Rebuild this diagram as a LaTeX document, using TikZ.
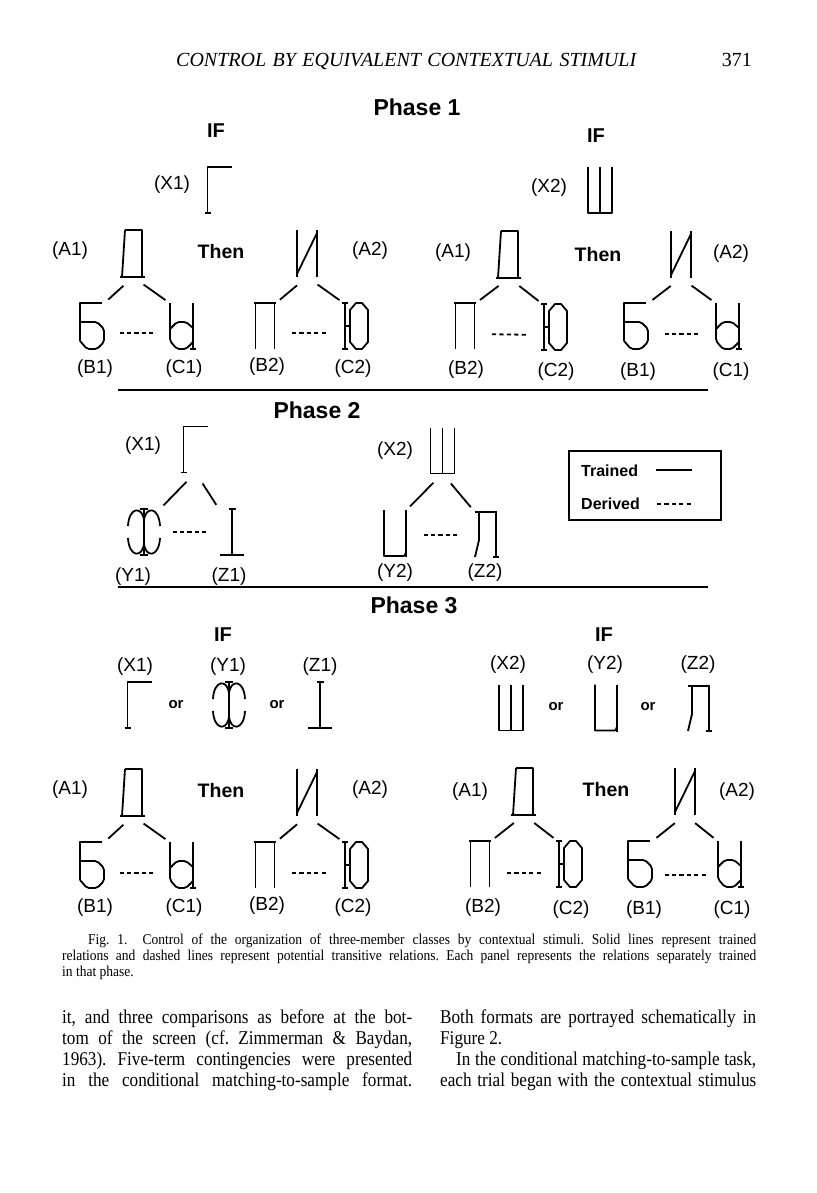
\documentclass[tikz,border=0pt]{standalone}
\usepackage{fontspec}
\setmainfont{Liberation Serif}
\setsansfont{Liberation Sans}
\newfontfamily\bodyfont[FakeStretch=0.88]{Liberation Serif}
\newfontfamily\capfont[FakeStretch=0.9]{Liberation Serif}
\usetikzlibrary{positioning}
\frenchspacing

\tikzset{
  glyph/.style={line width=1.8pt, line join=round},
  gbox/.style={inner sep=0pt, outer sep=0pt, minimum height=46pt},
  link/.style={line width=1.8pt, shorten <=13pt, shorten >=5pt},
  derived/.style={line width=1.8pt, dash pattern=on 4.2pt off 3.2pt, shorten <=#1, shorten >=#1},
  derived/.default=16pt,
  rulebar/.style={line width=2pt},
  lab/.style={font=\sffamily\fontsize{19}{21}\selectfont, inner sep=0pt},
  phasetitle/.style={font=\sffamily\bfseries\fontsize{23}{26}\selectfont, inner sep=0pt},
  iftext/.style={font=\sffamily\bfseries\fontsize{20}{22}\selectfont, inner sep=0pt},
  thentext/.style={font=\sffamily\bfseries\fontsize{19.5}{22}\selectfont, inner sep=0pt},
  ortext/.style={font=\sffamily\bfseries\fontsize{15}{17}\selectfont, inner sep=0pt},
  legtext/.style={font=\sffamily\bfseries\fontsize{16}{18}\selectfont, inner sep=0pt},
  legbox/.style={draw, line width=1.6pt, minimum width=152pt, minimum height=69pt},
  headtext/.style={font=\itshape\fontsize{20}{22}\selectfont, inner sep=0pt},
  pagetext/.style={font=\fontsize{20}{22}\selectfont, inner sep=0pt},
  captext/.style={font=\capfont\fontsize{15}{16}\selectfont, inner sep=0pt},
  bodytext/.style={font=\bodyfont\fontsize{19.5}{21}\selectfont, inner sep=0pt},
  % the stimulus glyphs, centred on the pic origin, y runs downwards
  ghe/.pic={
    \node[gbox, minimum width=26pt] (-box) {};
    \draw[glyph] (12.5,-23) -- (-12,-23) -- (-12,23);
    \draw[glyph] (-15,23) -- (-9,23);
  },
  sha/.pic={
    \node[gbox, minimum width=25pt] (-box) {};
    \draw[glyph] (-12,-23) -- (-12,23) -- (12,23) -- (12,-23);
    \draw[glyph] (0,-23) -- (0,23);
  },
  de/.pic={
    \node[gbox, minimum width=26pt] (-box) {};
    \draw[glyph] (-8,-24) -- (9,-24) -- (9,23);
    \draw[glyph] (-8,-24) -- (-11,23);
    \draw[glyph] (-13,23) -- (12,23);
  },
  ii/.pic={
    \node[gbox, minimum width=21pt] (-box) {};
    \draw[glyph] (-10,-24) -- (-10,23);
    \draw[glyph] (10,-24) -- (10,23);
    \draw[glyph] (-10,20) -- (10,-21);
  },
  be/.pic={
    \node[gbox, minimum width=25pt] (-box) {};
    \draw[glyph] (10,-23) -- (-12,-23) -- (-12,15);
    \draw[glyph, rounded corners=2pt] (-12,-4) -- (5,-4) -- (12,3) -- (12,16) -- (5,23) -- (-5,23) -- (-12,15);
  },
  bowl/.pic={
    \node[gbox, minimum width=25pt] (-box) {};
    \draw[glyph, rounded corners=2pt] (-12,-23) -- (-12,15) -- (-5,23) -- (4,23) -- (11,16);
    \draw[glyph, rounded corners=2pt] (-12,3) -- (-5,-4) -- (4,-4) -- (11,2);
    \draw[glyph] (11,-23) -- (11,23);
    \draw[glyph] (8,23) -- (14,23);
  },
  pe/.pic={
    \node[gbox, minimum width=22pt] (-box) {};
    \draw[glyph] (-9.5,23) -- (-9.5,-23);
    \draw[glyph] (9.5,-23) -- (9.5,23);
    \draw[glyph] (-11,-23) -- (11,-23);
  },
  yu/.pic={
    \node[gbox, minimum width=25pt] (-box) {};
    \draw[glyph] (-11,-23) -- (-11,23);
    \draw[glyph] (-14,-23) -- (-8,-23);
    \draw[glyph] (-14,23) -- (-8,23);
    \draw[glyph] (-11,0) -- (-6,0);
    \draw[glyph] (-6,-16) -- (0,-23) -- (6,-23) -- (12,-16) -- (12,16) -- (6,23) -- (0,23) -- (-6,16) -- cycle;
  },
  arch/.pic={
    \node[gbox, minimum width=32pt] (-box) {};
    \draw[glyph] (0,-23) -- (0,23);
    \draw[glyph] (-4,-23) -- (4,-23);
    \draw[glyph] (-4,23) -- (4,23);
    \draw[glyph] (-16,-6) .. controls (-15,-26) and (-1,-26) .. (0,-11);
    \draw[glyph] (16,-6) .. controls (15,-26) and (1,-26) .. (0,-11);
    \draw[glyph] (-16,6) .. controls (-15,26) and (-1,26) .. (0,11);
    \draw[glyph] (16,6) .. controls (15,26) and (1,26) .. (0,11);
  },
  tee/.pic={
    \node[gbox, minimum width=26pt] (-box) {};
    \draw[glyph] (0,-23) -- (0,23);
    \draw[glyph] (-3.5,-23) -- (3.5,-23);
    \draw[glyph] (-12,23) -- (12,23);
  },
  cup/.pic={
    \node[gbox, minimum width=23pt] (-box) {};
    \draw[glyph] (-11,-23) -- (-11,23) -- (8,23) .. controls (10,23) .. (10.5,20);
    \draw[glyph] (11,-23) -- (11,24);
  },
  el/.pic={
    \node[gbox, minimum width=24pt] (-box) {};
    \draw[glyph] (-11,-22) -- (11,-22);
    \draw[glyph] (10,-22) -- (10,23);
    \draw[glyph] (7,23) -- (13,23);
    \draw[glyph] (-7,-22) -- (-7,6) -- (-11,23);
  }
}

\begin{document}
\begin{tikzpicture}[x=1pt, y=-1pt]
\fill[white] (0,0) rectangle (816,1193);
\useasboundingbox (0,0) rectangle (816,1193);

% running head
\node[headtext, anchor=base west] (head) at (176,67) {\makebox[460pt][s]{CONTROL BY EQUIVALENT CONTEXTUAL STIMULI}};
\node[pagetext, anchor=base east] (pageno) at (752,67) {371};

% ---- Phase 1
\node[phasetitle] (ph1) at (417,107) {Phase 1};
\node[iftext] (if1) at (216,131) {IF};
\node[iftext] (if2) at (596,136) {IF};

\node[lab] (p1x1l) at (172,185) {(X1)};
\pic (p1x1) at (219.5,190) {ghe};
\node[lab] (q1x2l) at (549,188) {(X2)};
\pic (q1x2) at (600,190) {sha};

\node[lab] (p1a1l) at (70,251) {(A1)};
\pic (p1a1) at (133,254) {de};
\node[thentext] (then1) at (221,252) {Then};
\pic (p1a2) at (307,254) {ii};
\node[lab] (p1a2l) at (370,251) {(A2)};

\pic (p1b1) at (92,326) {be};
\pic (p1c1) at (182,326) {bowl};
\pic (p1b2) at (265,326) {pe};
\pic (p1c2) at (356,326) {yu};
\draw[link] (p1a1-box.south) -- (p1b1-box.north east);
\draw[link] (p1a1-box.south) -- (p1c1-box.north west);
\draw[link] (p1a2-box.south) -- (p1b2-box.north east);
\draw[link] (p1a2-box.south) -- (p1c2-box.north west);
\draw[derived=15pt] ([yshift=-7pt]p1b1-box.east) -- ([yshift=-7pt]p1c1-box.west);
\draw[derived] ([yshift=-7pt]p1b2-box.east) -- ([yshift=-7pt]p1c2-box.west);
\node[lab] (p1b1l) at (95,369) {(B1)};
\node[lab] (p1c1l) at (184,369) {(C1)};
\node[lab] (p1b2l) at (267,367) {(B2)};
\node[lab] (p1c2l) at (353,369) {(C2)};

\node[lab] (q1a1l) at (453,253) {(A1)};
\pic (q1a1) at (509,255) {de};
\node[thentext] (then2) at (598,255) {Then};
\pic (q1a2) at (681,255) {ii};
\node[lab] (q1a2l) at (731,254) {(A2)};

\pic (q1b2) at (465,326) {pe};
\pic (q1c2) at (555,327) {yu};
\pic (q1b1) at (636,326) {be};
\pic (q1c1) at (728,326) {bowl};
\draw[link] (q1a1-box.south) -- (q1b2-box.north east);
\draw[link] (q1a1-box.south) -- (q1c2-box.north west);
\draw[link] (q1a2-box.south) -- (q1b1-box.north east);
\draw[link] (q1a2-box.south) -- (q1c1-box.north west);
\draw[derived] ([yshift=-8pt]q1b2-box.east) -- ([yshift=-8pt]q1c2-box.west);
\draw[derived] ([yshift=-8pt]q1b1-box.east) -- ([yshift=-8pt]q1c1-box.west);
\node[lab] (q1b2l) at (466,370) {(B2)};
\node[lab] (q1c2l) at (556,372) {(C2)};
\node[lab] (q1b1l) at (638,372) {(B1)};
\node[lab] (q1c1l) at (731,372) {(C1)};

\draw[rulebar] (118,390) -- (708,390);

% ---- Phase 2
\node[phasetitle] (ph2) at (317,410) {Phase 2};
\node[lab] (p2x1l) at (143,446) {(X1)};
\pic (p2x1) at (195.5,449.5) {ghe};
\pic (p2y1) at (144,532) {arch};
\pic (p2z1) at (232,532) {tee};
\draw[link] (p2x1-box.south) -- (p2y1-box.north east);
\draw[link] (p2x1-box.south) -- (p2z1-box.north west);
\draw[derived=12.5pt] (p2y1-box.east) -- (p2z1-box.west);
\node[lab] (p2y1l) at (133,577) {(Y1)};
\node[lab] (p2z1l) at (229,577) {(Z1)};

\node[lab] (q2x2l) at (395,451) {(X2)};
\pic (q2x2) at (442.5,450.5) {sha};
\pic (q2y2) at (395,533) {cup};
\pic (q2z2) at (486,534) {el};
\draw[link] (q2x2-box.south) -- (q2y2-box.north east);
\draw[link] (q2x2-box.south) -- (q2z2-box.north west);
\draw[derived=17pt] ([yshift=-2pt]q2y2-box.east) -- ([yshift=-1pt]q2z2-box.west);
\node[lab] (q2y2l) at (395,573) {(Y2)};
\node[lab] (q2z2l) at (485,573) {(Z2)};

% legend
\node[legbox] (legend) at (645,485.5) {};
\node[legtext, anchor=west] (trained) at (581,471) {Trained};
\node[legtext, anchor=west] (derivedl) at (581,504) {Derived};
\coordinate (tr-a) at (656,470);
\coordinate (tr-b) at (692,470);
\coordinate (dv-a) at (657,504);
\coordinate (dv-b) at (692,504);
\draw[line width=1.6pt] (tr-a) -- (tr-b);
\draw[derived=0pt, line width=1.6pt] (dv-a) -- (dv-b);

\draw[rulebar] (118,587) -- (708,587);

% ---- Phase 3
\node[phasetitle] (ph3) at (414,605) {Phase 3};
\node[iftext] (if3) at (223,635) {IF};
\node[iftext] (if4) at (604,635) {IF};

\node[lab] (p3x1l) at (135,667) {(X1)};
\node[lab] (p3y1l) at (228,667) {(Y1)};
\node[lab] (p3z1l) at (320,667) {(Z1)};
\pic (p3x1) at (139.5,705) {ghe};
\node[ortext] (or1) at (176,705) {or};
\pic (p3y1) at (229,705) {arch};
\node[ortext] (or2) at (277,705) {or};
\pic (p3z1) at (320,705) {tee};

\node[lab] (q3x2l) at (508,665) {(X2)};
\node[lab] (q3y2l) at (605,665) {(Y2)};
\node[lab] (q3z2l) at (698,665) {(Z2)};
\pic (q3x2) at (511,707.5) {sha};
\node[ortext] (or3) at (556,707) {or};
\pic (q3y2) at (606,707.5) {cup};
\node[ortext] (or4) at (648,707) {or};
\pic (q3z2) at (699,708) {el};

\node[lab] (p3a1l) at (70,790) {(A1)};
\pic (p3a1) at (133,793) {de};
\node[thentext] (then3) at (221,791) {Then};
\pic (p3a2) at (307,793) {ii};
\node[lab] (p3a2l) at (370,790) {(A2)};

\pic (p3b1) at (92,865) {be};
\pic (p3c1) at (182,865) {bowl};
\pic (p3b2) at (265,865) {pe};
\pic (p3c2) at (356,865) {yu};
\draw[link] (p3a1-box.south) -- (p3b1-box.north east);
\draw[link] (p3a1-box.south) -- (p3c1-box.north west);
\draw[link] (p3a2-box.south) -- (p3b2-box.north east);
\draw[link] (p3a2-box.south) -- (p3c2-box.north west);
\draw[derived=15pt] ([yshift=-8pt]p3b1-box.east) -- ([yshift=-8pt]p3c1-box.west);
\draw[derived] ([yshift=-8pt]p3b2-box.east) -- ([yshift=-8pt]p3c2-box.west);
\node[lab] (p3b1l) at (95,908) {(B1)};
\node[lab] (p3c1l) at (184,908) {(C1)};
\node[lab] (p3b2l) at (267,906) {(B2)};
\node[lab] (p3c2l) at (353,908) {(C2)};

\node[lab] (q3a1l) at (470,792) {(A1)};
\pic (q3a1) at (524,792) {de};
\node[thentext] (then4) at (606,790) {Then};
\pic (q3a2) at (685,792) {ii};
\node[lab] (q3a2l) at (737,792) {(A2)};

\pic (q3b2) at (480,864) {pe};
\pic (q3c2) at (570,864) {yu};
\pic (q3b1) at (640,864) {be};
\pic (q3c1) at (730,864) {bowl};
\draw[link] (q3a1-box.south) -- (q3b2-box.north east);
\draw[link] (q3a1-box.south) -- (q3c2-box.north west);
\draw[link] (q3a2-box.south) -- (q3b1-box.north east);
\draw[link] (q3a2-box.south) -- (q3c1-box.north west);
\draw[derived] ([yshift=-9pt]q3b2-box.east) -- ([yshift=-9pt]q3c2-box.west);
\draw[derived=12pt] ([yshift=-11pt]q3b1-box.east) -- ([yshift=-11pt]q3c1-box.west);
\node[lab] (q3b2l) at (483,908) {(B2)};
\node[lab] (q3c2l) at (571,910) {(C2)};
\node[lab] (q3b1l) at (644,910) {(B1)};
\node[lab] (q3c1l) at (732,910) {(C1)};

% caption
\node[captext, anchor=base west] (cap1) at (88,944) {\makebox[668pt][s]{Fig. 1.\quad Control of the organization of three-member classes by contextual stimuli. Solid lines represent trained}};
\node[captext, anchor=base west] (cap2) at (62,960) {\makebox[694pt][s]{relations and dashed lines represent potential transitive relations. Each panel represents the relations separately trained}};
\node[captext, anchor=base west] (cap3) at (62,976) {in that phase.};

% running text
\node[bodytext, anchor=base west] (l1) at (62,1023) {\makebox[350pt][s]{it, and three comparisons as before at the bot-}};
\node[bodytext, anchor=base west] (l2) at (62,1044) {\makebox[350pt][s]{tom of the screen (cf. Zimmerman \& Baydan,}};
\node[bodytext, anchor=base west] (l3) at (62,1065) {\makebox[350pt][s]{1963). Five-term contingencies were presented}};
\node[bodytext, anchor=base west] (l4) at (62,1086) {\makebox[350pt][s]{in the conditional matching-to-sample format.}};
\node[bodytext, anchor=base west] (r1) at (440,1023) {\makebox[316pt][s]{Both formats are portrayed schematically in}};
\node[bodytext, anchor=base west] (r2) at (440,1044) {Figure 2.};
\node[bodytext, anchor=base west] (r3) at (456,1065) {\makebox[300pt][s]{In the conditional matching-to-sample task,}};
\node[bodytext, anchor=base west] (r4) at (440,1086) {\makebox[316pt][s]{each trial began with the contextual stimulus}};
\end{tikzpicture}
\end{document}
